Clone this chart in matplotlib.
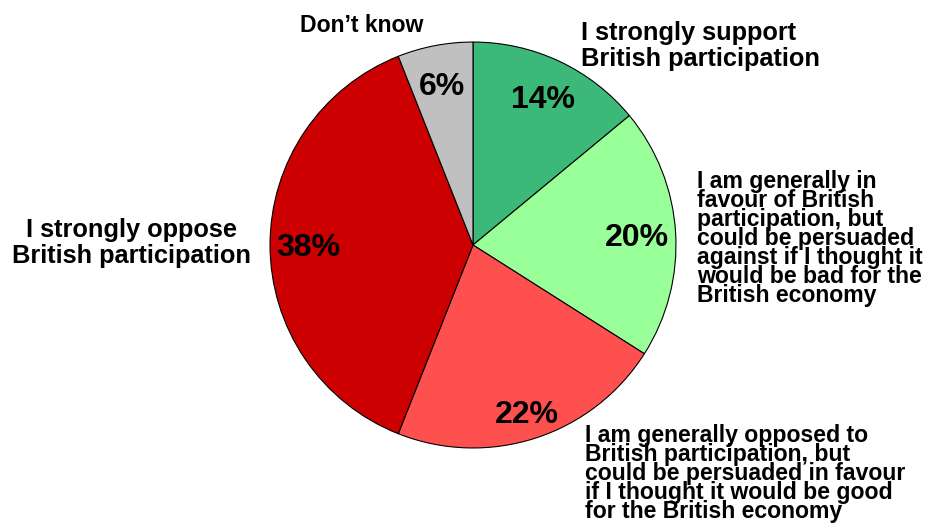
import matplotlib
matplotlib.use("Agg")
from matplotlib import pyplot as plt

plt.rcParams['font.family'] = ['Liberation Sans', 'DejaVu Sans']
plt.rcParams['font.weight'] = 'bold'

# survey answers, clockwise from 12 o'clock
shares = [14, 20, 22, 38, 6]
colors = ['#3CB878', '#99FF99', '#FF5050', '#CC0000', '#C0C0C0']
answers = [
    "I strongly support\nBritish participation",
    "I am generally in\nfavour of British\nparticipation, but\ncould be persuaded\nagainst if I thought it\nwould be bad for the\nBritish economy",
    "I am generally opposed to\nBritish participation, but\ncould be persuaded in favour\nif I thought it would be good\nfor the British economy",
    "I strongly oppose\nBritish participation",
    "Don\u2019t know",
]

W, H = 929, 523
fig = plt.figure(figsize=(W / 100, H / 100), dpi=100)
fig.patch.set_facecolor('white')

# pie axes: centre (473, 245) px, radius 205 px
cx, cy, r = 473, 245, 205
ax = fig.add_axes([(cx - r) / W, 1 - (cy + r) / H, 2 * r / W, 2 * r / H])
wedges, texts, autotexts = ax.pie(
    shares, colors=colors, startangle=90, counterclock=False,
    autopct='%d%%', pctdistance=0.81,
    wedgeprops=dict(edgecolor='black', linewidth=0.8),
    textprops=dict(fontsize=23, fontweight='bold', color='black'))
for t in autotexts:
    t.set_va('center_baseline')
# the 22% label sits a little further out
x, y = autotexts[2].get_position()
autotexts[2].set_position((x * 0.86 / 0.81, y * 0.86 / 0.81))

ax.set_xlim(-1.01, 1.01)
ax.set_ylim(-1.01, 1.01)
ax.set_aspect('equal')
ax.axis('off')


def px(x, y):
    return x / W, 1 - y / H


big = dict(fontsize=18.3, fontweight='bold', linespacing=1.12)
small = dict(fontsize=16.6, fontweight='bold', linespacing=0.78)

fig.text(*px(581, 21), answers[0], ha='left', va='top', **big)
fig.text(*px(697, 170), answers[1], ha='left', va='top', **small)
fig.text(*px(585, 424), answers[2], ha='left', va='top', **small)
fig.text(*px(131, 243), answers[3], ha='center', va='center', multialignment='center', **big)
fig.text(*px(362, 26), answers[4], ha='center', va='center', fontsize=16.6, fontweight='bold')

fig.savefig('out.png', dpi=100)
